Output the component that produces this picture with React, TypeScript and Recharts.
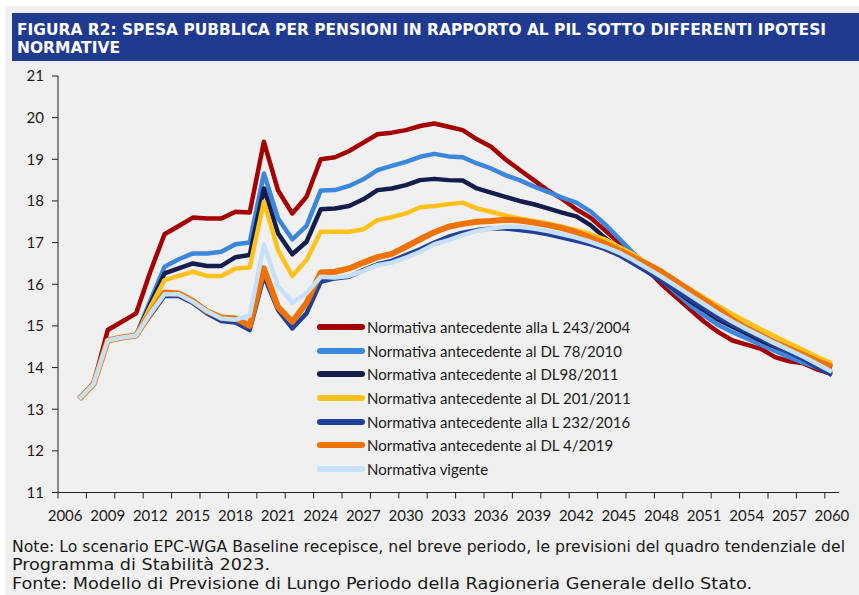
import { LineChart, Line, XAxis, YAxis, Legend } from 'recharts'

// years on the category axis (first slot 2006 is empty)
const years = [
  2007, 2008, 2009, 2010, 2011, 2012, 2013, 2014, 2015, 2016,
  2017, 2018, 2019, 2020, 2021, 2022, 2023, 2024, 2025, 2026,
  2027, 2028, 2029, 2030, 2031, 2032, 2033, 2034, 2035, 2036,
  2037, 2038, 2039, 2040, 2041, 2042, 2043, 2044, 2045, 2046,
  2047, 2048, 2049, 2050, 2051, 2052, 2053, 2054, 2055, 2056,
  2057, 2058, 2059, 2060,
]

const l243 = [
  13.25, 13.6, 14.9, 15.1, 15.3, 16.3, 17.2, 17.4, 17.6, 17.58,
  17.58, 17.74, 17.72, 19.42, 18.25, 17.7, 18.1, 19.0, 19.05, 19.2,
  19.4, 19.6, 19.64, 19.7, 19.8, 19.86, 19.78, 19.7, 19.48, 19.3,
  19.0, 18.75, 18.5, 18.25, 18.05, 17.8, 17.6, 17.3, 17.0, 16.7,
  16.35, 16.0, 15.7, 15.4, 15.1, 14.85, 14.65, 14.55, 14.45, 14.25,
  14.15, 14.1, 13.95, 13.85,
]
const dl78 = [
  13.25, 13.6, 14.65, 14.72, 14.77, 15.6, 16.42, 16.6, 16.74, 16.74,
  16.78, 16.96, 17.0, 18.66, 17.58, 17.08, 17.4, 18.25, 18.26, 18.36,
  18.52, 18.74, 18.84, 18.94, 19.06, 19.13, 19.07, 19.05, 18.9, 18.78,
  18.62, 18.5, 18.35, 18.22, 18.08, 17.96, 17.75, 17.45, 17.1, 16.75,
  16.45, 16.1, 15.8, 15.5, 15.25, 15.02, 14.85, 14.7, 14.55, 14.4,
  14.25, 14.12, 14.0, 13.88,
]
const dl98 = [
  13.25, 13.6, 14.65, 14.72, 14.77, 15.52, 16.26, 16.38, 16.5, 16.44,
  16.44, 16.65, 16.7, 18.3, 17.22, 16.72, 17.02, 17.8, 17.82, 17.88,
  18.04, 18.26, 18.3, 18.38, 18.5, 18.53, 18.5, 18.49, 18.3, 18.2,
  18.1, 18.0, 17.92, 17.82, 17.72, 17.63, 17.42, 17.12, 16.85, 16.62,
  16.38, 16.1, 15.85, 15.6, 15.38, 15.15, 14.98, 14.82, 14.65, 14.5,
  14.38, 14.25, 14.12, 14.0,
]
const dl201 = [
  13.25, 13.6, 14.65, 14.72, 14.77, 15.45, 16.1, 16.2, 16.3, 16.2,
  16.2, 16.38, 16.4, 17.98, 16.82, 16.2, 16.58, 17.26, 17.26, 17.26,
  17.32, 17.54, 17.61, 17.7, 17.85, 17.88, 17.92, 17.96, 17.82, 17.74,
  17.65, 17.58, 17.52, 17.46, 17.38, 17.3, 17.2, 17.08, 16.9, 16.72,
  16.5, 16.3, 16.08, 15.88, 15.68, 15.48, 15.28, 15.1, 14.92, 14.75,
  14.58, 14.42, 14.25, 14.1,
]
const l232 = [
  13.25, 13.6, 14.65, 14.72, 14.77, 15.25, 15.72, 15.72, 15.55, 15.3,
  15.12, 15.08, 14.9, 16.2, 15.38, 14.94, 15.3, 16.06, 16.14, 16.18,
  16.34, 16.48, 16.56, 16.7, 16.84, 17.0, 17.14, 17.24, 17.3, 17.34,
  17.34, 17.3, 17.26, 17.2, 17.12, 17.04, 16.96, 16.85, 16.7, 16.5,
  16.3, 16.08, 15.86, 15.64, 15.42, 15.2, 15.02, 14.86, 14.7, 14.52,
  14.36, 14.2, 14.0, 13.82,
]
const dl4 = [
  13.25, 13.6, 14.65, 14.72, 14.77, 15.3, 15.8, 15.78, 15.6, 15.35,
  15.2, 15.18, 15.0, 16.38, 15.45, 15.1, 15.55, 16.28, 16.3, 16.38,
  16.52, 16.65, 16.73, 16.9, 17.08, 17.25, 17.38, 17.45, 17.5, 17.52,
  17.55, 17.53, 17.48, 17.42, 17.35, 17.25, 17.12, 16.98, 16.82, 16.65,
  16.48, 16.3, 16.08, 15.85, 15.62, 15.4, 15.15, 14.95, 14.78, 14.6,
  14.45, 14.3, 14.15, 14.02,
]
const vigente = [
  13.25, 13.6, 14.65, 14.72, 14.77, 15.3, 15.76, 15.76, 15.58, 15.35,
  15.18, 15.15, 15.25, 16.95, 15.95, 15.56, 15.78, 16.18, 16.16, 16.2,
  16.32, 16.46, 16.52, 16.64, 16.78, 16.96, 17.06, 17.18, 17.28, 17.34,
  17.38, 17.38, 17.34, 17.28, 17.2, 17.12, 17.02, 16.9, 16.76, 16.58,
  16.38, 16.18, 15.96, 15.74, 15.52, 15.3, 15.1, 14.92, 14.75, 14.58,
  14.42, 14.26, 14.08, 13.9,
]

const yTicks = [11, 12, 13, 14, 15, 16, 17, 18, 19, 20, 21]
const xLabels = [
  2006, 2009, 2012, 2015, 2018, 2021, 2024, 2027, 2030, 2033,
  2036, 2039, 2042, 2045, 2048, 2051, 2054, 2057, 2060,
]
// tick marks sit on category boundaries, every second category
const xMarks = [
  2005.5, 2007.5, 2009.5, 2011.5, 2013.5, 2015.5, 2017.5, 2019.5, 2021.5,
  2023.5, 2025.5, 2027.5, 2029.5, 2031.5, 2033.5, 2035.5, 2037.5, 2039.5,
  2041.5, 2043.5, 2045.5, 2047.5, 2049.5, 2051.5, 2053.5, 2055.5, 2057.5,
  2059.5,
]

const series = [
  { key: 'l243', name: 'Normativa antecedente alla L 243/2004', color: '#a30000', width: 4.5 },
  { key: 'dl78', name: 'Normativa antecedente al DL 78/2010', color: '#3c87dc', width: 4.5 },
  { key: 'dl98', name: 'Normativa antecedente al DL98/2011', color: '#141d4c', width: 4.5 },
  { key: 'dl201', name: 'Normativa antecedente al DL 201/2011', color: '#ffc21c', width: 4.5 },
  { key: 'l232', name: 'Normativa antecedente alla L 232/2016', color: '#22409b', width: 4.5 },
  { key: 'dl4', name: 'Normativa antecedente al DL 4/2019', color: '#ee7204', width: 6 },
  { key: 'vigente', name: 'Normativa vigente', color: '#c6e0f9', width: 4.5 },
]

const data = years.map((year, i) => ({
  year,
  l243: l243[i],
  dl78: dl78[i],
  dl98: dl98[i],
  dl201: dl201[i],
  l232: l232[i],
  dl4: dl4[i],
  vigente: vigente[i],
}))

const xTicks = [...xMarks, ...xLabels].sort((a, b) => a - b)

const tickFont = 'Lato, "Open Sans", sans-serif'
const noteFont = '"DejaVu Sans Condensed", "DejaVu Sans", sans-serif'

function XTick(props: any) {
  const { x, y, payload } = props
  const v = payload.value as number
  if (v % 1 !== 0) {
    return <line x1={x} x2={x} y1={y} y2={y + 6} stroke="#222" strokeWidth={1} />
  }
  return (
    <text x={x} y={y + 28} textAnchor="middle" fontFamily={tickFont} fontSize={15} fill="#1a1a1a">
      {v}
    </text>
  )
}

function LegendBox() {
  return (
    <div style={{ fontFamily: tickFont, fontSize: 15, color: '#1a1a1a' }}>
      {series.map((s) => (
        <div key={s.key} style={{ display: 'flex', alignItems: 'center', height: 23.7 }}>
          <svg width={50} height={10} style={{ marginRight: 1 }}>
            <line x1={4} x2={46} y1={5} y2={5} stroke={s.color} strokeWidth={6} strokeLinecap="round" />
          </svg>
          <span style={{ whiteSpace: 'nowrap' }}>{s.name}</span>
        </div>
      ))}
    </div>
  )
}

export default function App() {
  return (
    <div style={{ position: 'absolute', left: 0, top: 0, width: 859, height: 595, background: '#ffffff', overflow: 'hidden' }}>
      <div style={{ position: 'absolute', left: 5, top: 6, width: 854, height: 589, background: '#f0f0f0' }} />
      <div style={{ position: 'absolute', left: 12, top: 13, width: 847, height: 48, background: '#203a90' }} />
      <svg width={859} height={595} style={{ position: 'absolute', left: 0, top: 0 }}>
        <g fontFamily={noteFont} fontWeight="bold" fontSize={15.5} fill="#ffffff">
          <text x={17} y={35} textLength={809} lengthAdjust="spacingAndGlyphs">
            FIGURA R2: SPESA PUBBLICA PER PENSIONI IN RAPPORTO AL PIL SOTTO DIFFERENTI IPOTESI
          </text>
          <text x={17} y={53} textLength={103} lengthAdjust="spacingAndGlyphs">
            NORMATIVE
          </text>
        </g>
        <g fontFamily={noteFont} fontSize={16} fill="#1a1a1a">
          <text x={12} y={552} textLength={833} lengthAdjust="spacingAndGlyphs">
            Note: Lo scenario EPC-WGA Baseline recepisce, nel breve periodo, le previsioni del quadro tendenziale del
          </text>
          <text x={12} y={570} textLength={258} lengthAdjust="spacingAndGlyphs">
            Programma di Stabilità 2023.
          </text>
          <text x={12} y={589} textLength={740} lengthAdjust="spacingAndGlyphs">
            Fonte: Modello di Previsione di Lungo Periodo della Ragioneria Generale dello Stato.
          </text>
        </g>
      </svg>
      <div style={{ position: 'absolute', left: 0, top: 0 }}>
        <LineChart
          width={859}
          height={595}
          data={data}
          margin={{ top: 76, right: 20, bottom: 0, left: 0 }}
        >
          <XAxis
            dataKey="year"
            type="number"
            domain={[2005.5, 2060.5]}
            ticks={xTicks}
            interval={0}
            tickSize={0}
            tickMargin={0}
            tickLine={false}
            tick={<XTick />}
            height={102.5}
            axisLine={{ stroke: '#222', strokeWidth: 1 }}
            allowDataOverflow
          />
          <YAxis
            type="number"
            domain={[11, 21]}
            ticks={yTicks}
            interval={0}
            width={58}
            tickSize={6}
            tickMargin={8}
            axisLine={{ stroke: '#222', strokeWidth: 1 }}
            tickLine={{ stroke: '#222', strokeWidth: 1 }}
            tick={{ fontFamily: tickFont, fontSize: 15, fill: '#1a1a1a' }}
          />
          <Legend
            layout="vertical"
            align="center"
            verticalAlign="middle"
            wrapperStyle={{ left: 316, top: 315, width: 340 }}
            content={() => <LegendBox />}
          />
          {series.map((s) => (
            <Line
              key={s.key}
              type="linear"
              dataKey={s.key}
              name={s.name}
              stroke={s.color}
              strokeWidth={s.width}
              strokeLinejoin="round"
              dot={false}
              activeDot={false}
              isAnimationActive={false}
            />
          ))}
        </LineChart>
      </div>
    </div>
  )
}
